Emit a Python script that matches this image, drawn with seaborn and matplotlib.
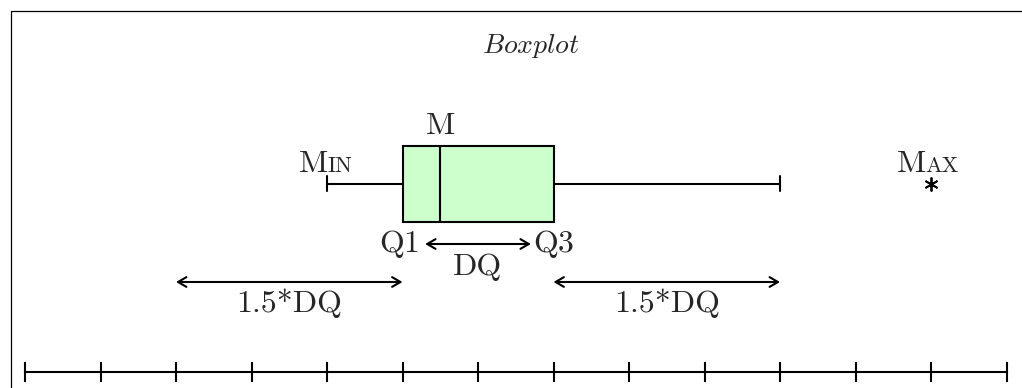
import numpy as np
import matplotlib
matplotlib.use("Agg")
import matplotlib.pyplot as plt
import matplotlib.transforms as mtransforms
from matplotlib.patches import FancyArrowPatch, Rectangle
import seaborn as sns

#%% Data
values = [4, 5, 5, 5.5, 5.5, 7, 7, 10, 12]
tick_values = list(range(14))
title_text = "Boxplot"
median_label = "M"
q1_label, q3_label = "Q1", "Q3"
iqr_label = "DQ"
fence_label = "1.5*DQ"
min_label = ("M", "IN")
max_label = ("M", "AX")

#%% Style
sns.set_style("white")
plt.rcParams['font.family'] = ['cmr10', 'DejaVu Serif']
plt.rcParams['mathtext.fontset'] = 'cm'
plt.rcParams['axes.unicode_minus'] = False

W, H = 1022, 388
fig = plt.figure(figsize=(W / 100, H / 100), dpi=100)
ax = fig.add_axes([0, 0, 1, 1])

box_w = 0.8
sns.boxplot(x=values, orient='h', width=box_w, color='#ccffcc', saturation=1,
            linecolor='black', linewidth=1.5, capwidths=0.16,
            flierprops=dict(marker=(6, 2, 0), markersize=10, markeredgecolor='black',
                            markerfacecolor='black', markeredgewidth=1.3),
            ax=ax)

# pixel layout helpers
px_per_unit = 75.5
x0_px = 25
ax.set_xlim(-x0_px / px_per_unit, (W - x0_px) / px_per_unit)
row_c = 183.5
row_unit = 76 / box_w
ax.set_ylim((H - row_c) / row_unit, -row_c / row_unit)


def frac(row):
    return 1 - row / H


trans = mtransforms.blended_transform_factory(ax.transData, ax.transAxes)

# axis line at the bottom
for s in ['top', 'right', 'left']:
    ax.spines[s].set_visible(False)
ax.spines['bottom'].set_position(('axes', frac(372)))
ax.spines['bottom'].set_bounds(tick_values[0], tick_values[-1])
ax.spines['bottom'].set_linewidth(1.5)
ax.spines['bottom'].set_color('black')
ax.set_xticks(tick_values)
ax.set_yticks([])
ax.tick_params(axis='x', direction='inout', length=14, width=1.5, color='black',
               labelbottom=False, bottom=True)

q1, med, q3 = np.percentile(values, [25, 50, 75])
iqr = q3 - q1
lo = min(v for v in values if v >= q1 - 1.5 * iqr)
hi_out = max(values)

fs = 23
sc = 16
ax.text(med, frac(134), median_label, transform=trans, ha='center', va='baseline', fontsize=fs)
ax.text(q1 + 0.24, frac(251.5), q1_label, transform=trans, ha='right', va='baseline', fontsize=fs)
ax.text(q3 - 0.27, frac(251.5), q3_label, transform=trans, ha='left', va='baseline', fontsize=fs)
ax.text((q1 + q3) / 2, frac(275), iqr_label, transform=trans, ha='center', va='baseline', fontsize=fs)
ax.text(q1 - 1.5 * iqr / 2, frac(311.5), fence_label, transform=trans, ha='center', va='baseline', fontsize=fs)
ax.text(q3 + 1.5 * iqr / 2, frac(311.5), fence_label, transform=trans, ha='center', va='baseline', fontsize=fs)

# small caps labels
ax.text(lo + 0.02, frac(172.5), min_label[0], transform=trans, ha='right', va='baseline', fontsize=fs)
ax.text(lo + 0.01, frac(172.5), min_label[1], transform=trans, ha='left', va='baseline', fontsize=sc)
ax.text(hi_out - 0.07, frac(172), max_label[0], transform=trans, ha='right', va='baseline', fontsize=fs)
ax.text(hi_out - 0.07, frac(172), max_label[1], transform=trans, ha='left', va='baseline', fontsize=sc)

# arrows
def darrow(xa, xb, row):
    a = FancyArrowPatch((xa, frac(row)), (xb, frac(row)), transform=trans,
                        arrowstyle='<->,head_length=0.6,head_width=0.35',
                        mutation_scale=10, shrinkA=0, shrinkB=0, lw=1.5, color='black')
    ax.add_patch(a)


darrow(q1 + 0.3, q3 - 0.3, 244)
darrow(q1 - 1.5 * iqr, q1, 282)
darrow(q3, q3 + 1.5 * iqr, 282)

# title and frame
fig.text(531 / W, frac(53), r'$\mathit{' + title_text + '}$', ha='center', va='baseline', fontsize=20)
fig.add_artist(Rectangle((11 / W, -0.2), 1.5, frac(11) + 0.2, transform=fig.transFigure,
                         fill=False, lw=0.9, edgecolor='black'))

fig.savefig('out.png', dpi=100)
